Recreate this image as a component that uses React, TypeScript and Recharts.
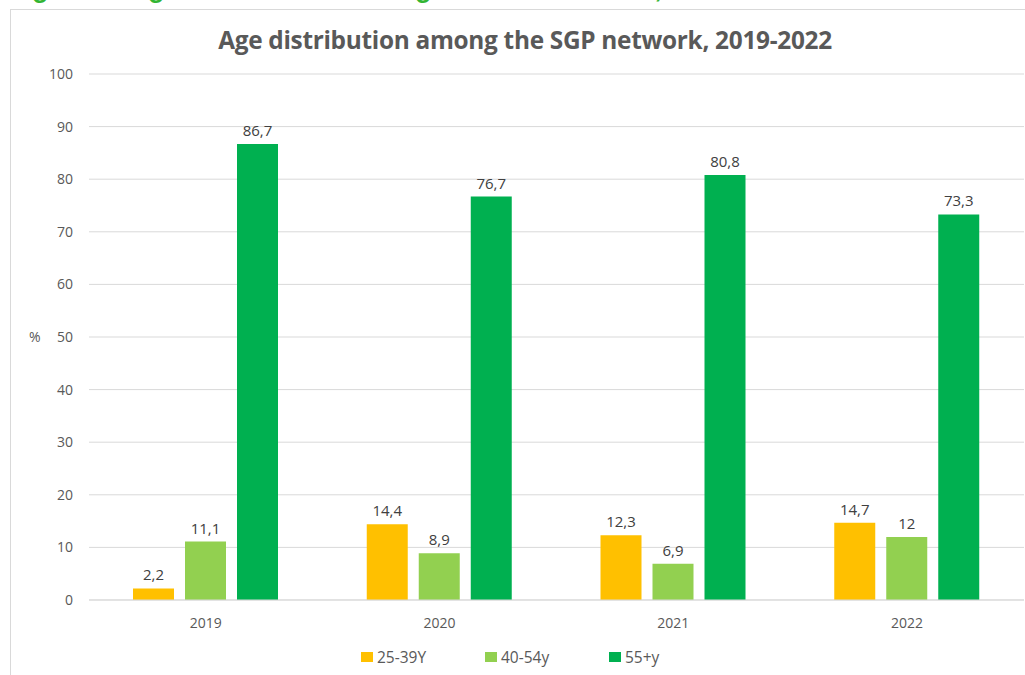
import React from 'react';
import { BarChart, Bar, XAxis, YAxis, CartesianGrid, LabelList } from 'recharts';

const years = ['2019', '2020', '2021', '2022'];
const age25to39 = [2.2, 14.4, 12.3, 14.7];
const age40to54 = [11.1, 8.9, 6.9, 12];
const age55plus = [86.7, 76.7, 80.8, 73.3];
const yTicks = [0, 10, 20, 30, 40, 50, 60, 70, 80, 90, 100];

const series = [
  { key: 'a', name: '25-39Y', color: '#FFC000', values: age25to39 },
  { key: 'b', name: '40-54y', color: '#92D050', values: age40to54 },
  { key: 'c', name: '55+y', color: '#00B050', values: age55plus },
];

const data = years.map((year, i) => {
  const row: Record<string, string | number> = { year };
  series.forEach((s) => {
    row[s.key] = s.values[i];
  });
  return row;
});

const FONT = '"Open Sans", sans-serif';
const commaFmt = (v: any) => String(v).replace('.', ',');

export default function App() {
  return (
    <div
      style={{
        position: 'absolute',
        left: 0,
        top: 0,
        width: 1025,
        height: 675,
        overflow: 'hidden',
        background: '#fff',
        fontFamily: FONT,
      }}
    >
      {/* caption from the source document, cut off at the top */}
      <div
        style={{
          position: 'absolute',
          left: 8,
          top: -25,
          fontFamily: '"Liberation Sans", Arial, sans-serif',
          fontWeight: 700,
          fontSize: 27,
          lineHeight: '27px',
          color: '#33b533',
          whiteSpace: 'nowrap',
        }}
      >
        Figure 4: Age distribution among the SGP network, 2019-2022
      </div>

      {/* chart frame */}
      <div
        style={{
          position: 'absolute',
          left: 10,
          top: 9,
          width: 1100,
          height: 800,
          border: '1px solid #d9d9d9',
        }}
      />

      <div
        style={{
          position: 'absolute',
          left: 0,
          top: 23,
          width: 1050,
          textAlign: 'center',
          fontSize: 24.4,
          fontWeight: 700,
          color: '#595959',
          letterSpacing: -0.3,
          whiteSpace: 'nowrap',
        }}
      >
        Age distribution among the SGP network, 2019-2022
      </div>

      <div style={{ position: 'absolute', left: 0, top: 0 }}>
        <BarChart
          width={1025}
          height={675}
          data={data}
          margin={{ top: 74, right: 1, bottom: 45, left: 10 }}
          barSize={41}
          barGap={11}
        >
          <CartesianGrid vertical={false} stroke="#d9d9d9" />
          <XAxis
            dataKey="year"
            height={30}
            axisLine={{ stroke: '#d9d9d9' }}
            tickLine={false}
            tickSize={0}
            tickMargin={18}
            tick={{ fill: '#595959', fontSize: 14, fontFamily: FONT }}
          />
          <YAxis
            width={79}
            domain={[0, 100]}
            ticks={yTicks}
            axisLine={false}
            tickLine={false}
            tickSize={0}
            tickMargin={16}
            tick={{ fill: '#595959', fontSize: 14, fontFamily: FONT }}
            label={{
              value: '%',
              position: 'insideLeft',
              offset: 19,
              fill: '#595959',
              fontSize: 14,
              fontFamily: FONT,
            }}
          />
          {series.map((s) => (
            <Bar key={s.key} dataKey={s.key} name={s.name} fill={s.color} isAnimationActive={false}>
              <LabelList
                dataKey={s.key}
                position="top"
                offset={8}
                formatter={commaFmt}
                fill="#404040"
                fontSize={15}
                fontFamily={FONT}
              />
            </Bar>
          ))}
        </BarChart>
      </div>

      {/* legend */}
      <div
        style={{
          position: 'absolute',
          left: 361,
          top: 646,
          display: 'flex',
          fontSize: 15.5,
          color: '#595959',
          lineHeight: '22px',
        }}
      >
        {series.map((s) => (
          <div key={s.key} style={{ width: 124, display: 'flex', alignItems: 'center' }}>
            <span
              style={{
                display: 'inline-block',
                width: 12,
                height: 10,
                background: s.color,
                marginRight: 4,
              }}
            />
            <span>{s.name}</span>
          </div>
        ))}
      </div>
    </div>
  );
}
